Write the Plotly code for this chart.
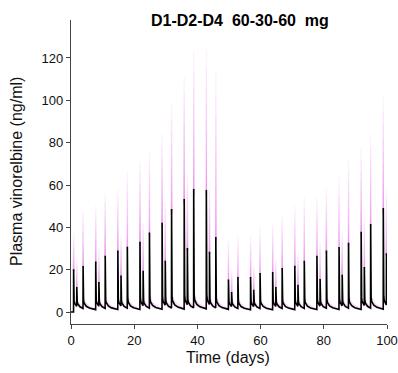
import plotly.graph_objects as go

# ---- data ----
dose_times = [0.8, 1.8, 3.8, 7.8, 8.8, 10.8, 14.8, 15.8, 17.8, 21.8, 22.8, 24.8,
              28.8, 29.8, 31.8, 35.8, 36.8, 38.8, 42.8, 43.8, 45.8, 49.8, 50.8, 52.8,
              56.8, 57.8, 59.8, 63.8, 64.8, 66.8, 70.8, 71.8, 73.8, 77.8, 78.8, 80.8,
              84.8, 85.8, 87.8, 91.8, 92.8, 94.8, 98.8, 99.8]
median_peaks = [20.2, 11.8, 21.7, 23.8, 14.2, 26.6, 29.1, 17.2, 30.8, 33.2, 19.5, 37.5,
                42.2, 24.2, 48.7, 53.4, 30.2, 58.1, 57.6, 28.5, 35.4, 15.4, 9.4, 16.5,
                16.5, 10.5, 18.4, 18.9, 11.8, 20.8, 21.9, 12.9, 24.2, 26.6, 15.6, 29.0,
                30.7, 17.6, 32.7, 37.9, 21.3, 41.6, 49.1, 27.7]
upper_peaks = [37, 25, 48, 50, 30, 56, 58, 36, 66, 71, 42, 76,
               84, 52, 98, 111, 65, 123, 124, 62, 113, 34, 20, 36,
               36, 22, 40, 42, 25, 46, 50, 28, 54, 54, 33, 58,
               64, 38, 72, 77, 45, 84, 102, 58]
x_ticks = [0, 20, 40, 60, 80, 100]
y_ticks = [0, 20, 40, 60, 80, 100, 120]
t_end = 100

# shape of one post-dose profile (time since dose, days)
TAU = [0.0, 0.03, 0.08, 0.15, 0.3, 0.6, 1.0, 2.0, 4.0]
TAIL = [7.0, 6.6, 6.0, 5.4, 4.6, 3.7, 2.9, 2.0, 1.2]
SPIKE = [1.0, 0.3, 0.1, 0.03, 0.0, 0.0, 0.0, 0.0, 0.0]
RISE = 0.03


def build_curve(peaks, tail_scale):
    xs, ys = [0.0, dose_times[0]], [0.0, 0.0]
    for i, (td, p) in enumerate(zip(dose_times, peaks)):
        t_next = dose_times[i + 1] if i + 1 < len(dose_times) else t_end
        L = t_next - td
        s = tail_scale * (0.75 + 0.25 * p / 30.0)
        for tau, tl, sp in zip(TAU, TAIL, SPIKE):
            if tau > L + 1e-9:
                break
            tt = td + RISE + tau if tau < L - 1e-9 else t_next
            xs.append(min(tt, t_end))
            ys.append(tl * s + (p - TAIL[0] * s) * sp)
    return xs, ys


mx, my = build_curve(median_peaks, 1.0)
ux, uy = build_curve(median_peaks, 1.6)
lx, ly = build_curve(median_peaks, 0.7)

fig = go.Figure()
PINK = "228,80,228"

# lower pink band
fig.add_trace(go.Scatter(x=lx, y=ly, mode="lines", line=dict(width=0), hoverinfo="skip"))
fig.add_trace(go.Scatter(x=mx, y=my, mode="lines", line=dict(width=0),
                         fill="tonexty", fillcolor=f"rgba({PINK},0.2)", hoverinfo="skip"))
# upper pink band (tails)
fig.add_trace(go.Scatter(x=ux, y=uy, mode="lines", line=dict(width=0),
                         fill="tonexty", fillcolor=f"rgba({PINK},0.22)", hoverinfo="skip"))

# gradient pink spikes (denser near the median)
N = 12
for k in range(1, N + 1):
    f = (k / N) ** 1.7
    sx, sy = [], []
    for td, m, u in zip(dose_times, median_peaks, upper_peaks):
        x0 = td + RISE
        sx += [x0, x0, None]
        sy += [m * 0.95, m + f * (u - m), None]
    fig.add_trace(go.Scatter(x=sx, y=sy, mode="lines",
                             line=dict(color=f"rgba({PINK},0.065)", width=1.5),
                             hoverinfo="skip"))

# median line
fig.add_trace(go.Scatter(x=mx, y=my, mode="lines",
                         line=dict(color="black", width=1.6), hoverinfo="skip"))

FONT = "Liberation Sans, Arial, Helvetica, sans-serif"
fig.update_layout(
    width=398, height=373,
    margin=dict(l=71, r=11, t=20, b=49),
    paper_bgcolor="white", plot_bgcolor="white",
    showlegend=False,
    font=dict(family=FONT, color="#111"),
    xaxis=dict(range=[0, 100], tickvals=x_ticks, ticks="outside", ticklen=4,
               tickwidth=1, tickcolor="#444", showline=True, linecolor="#444",
               linewidth=1.2, showgrid=False, zeroline=False, automargin=False,
               tickfont=dict(size=13, family=FONT, color="#111")),
    yaxis=dict(range=[-5.67, 137.95], tickvals=y_ticks, ticks="outside", ticklen=4,
               tickwidth=1, tickcolor="#444", showline=True, linecolor="#444",
               linewidth=1.2, showgrid=False, zeroline=False, automargin=False,
               tickfont=dict(size=13, family=FONT, color="#111")),
    annotations=[
        dict(text="<b>D1-D2-D4\u00a0\u00a060-30-60\u00a0\u00a0mg</b>", x=0.535, y=1.0,
             xref="paper", yref="paper", xanchor="center", yanchor="middle",
             showarrow=False, font=dict(size=16, family=FONT, color="#000")),
        dict(text="Time (days)", x=0.498, y=-0.1086, xref="paper", yref="paper",
             xanchor="center", yanchor="middle", showarrow=False,
             font=dict(size=16, family=FONT, color="#111")),
        dict(text="Plasma vinorelbine (ng/ml)", x=-0.174, y=0.5, xref="paper",
             yref="paper", xanchor="center", yanchor="middle", textangle=-90,
             showarrow=False, font=dict(size=16, family=FONT, color="#111")),
    ],
)

fig.write_html("out.html", config={"displayModeBar": False, "staticPlot": True},
               post_script="document.body.style.margin='0';document.body.style.overflow='hidden';")
